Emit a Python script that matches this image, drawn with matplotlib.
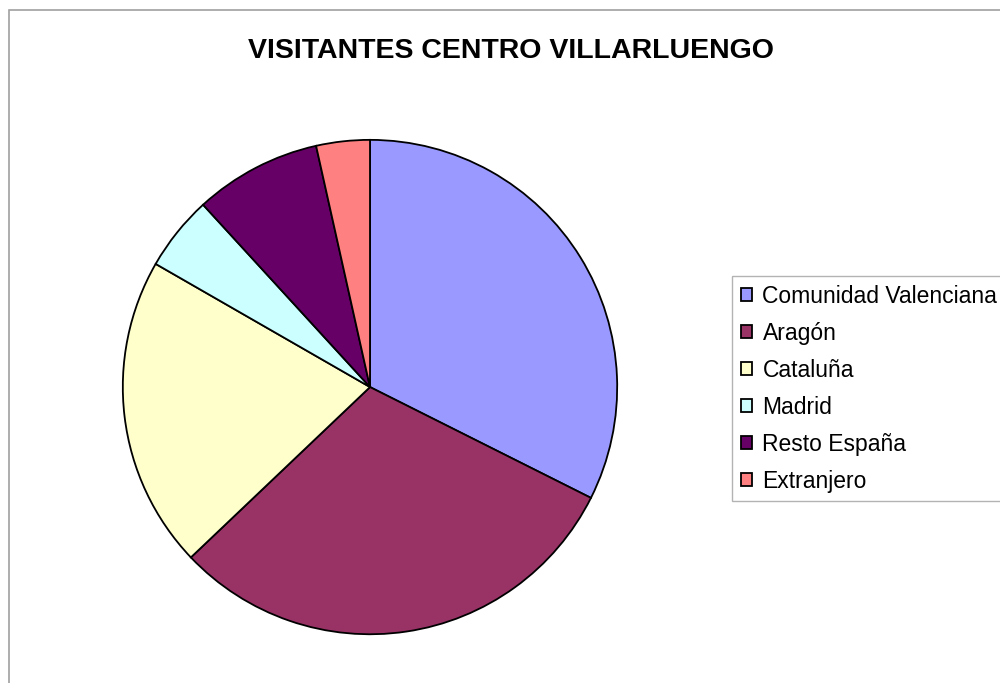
import matplotlib.pyplot as plt
from matplotlib.patches import Rectangle

# datos del grafico
regiones = ['Comunidad Valenciana', 'Aragón', 'Cataluña', 'Madrid',
            'Resto España', 'Extranjero']
visitantes = [32.4, 30.5, 20.4, 4.9, 8.3, 3.5]
colores = ['#9999FF', '#993366', '#FFFFCC', '#CCFFFF', '#660066', '#FF8080']

plt.rcParams['font.family'] = ['Liberation Sans', 'DejaVu Sans']

fig = plt.figure(figsize=(10, 6.83), dpi=100)

# borde del area del grafico
fig.patches.append(Rectangle((0.009, -0.05), 1.2, 0.05 + 1 - 10 / 683,
                             transform=fig.transFigure, fill=False,
                             edgecolor='#A0A0A0', linewidth=1.2))

ax = fig.add_axes([0.122, 0.0703, 0.496, 0.726])
wedges, _ = ax.pie(visitantes, colors=colores, startangle=90,
                   counterclock=False,
                   wedgeprops=dict(edgecolor='black', linewidth=1.3))
ax.set_xlim(-1.003, 1.003)
ax.set_ylim(-1.003, 1.003)
ax.set_aspect('equal')

fig.text(0.511, 1 - 51 / 683, 'VISITANTES CENTRO VILLARLUENGO',
         ha='center', va='center', fontsize=20.5, fontweight='bold')

leg = fig.legend(wedges, regiones, loc='upper left',
                 bbox_to_anchor=(0.732, 1 - 276 / 683),
                 fontsize=16.5, frameon=True, fancybox=False,
                 handlelength=0.5, handleheight=0.5, handletextpad=0.45,
                 labelspacing=0.61, borderpad=0.38, borderaxespad=0)
leg.get_frame().set_edgecolor('#A0A0A0')
leg.get_frame().set_linewidth(1.0)

fig.savefig('out.png', dpi=100)
